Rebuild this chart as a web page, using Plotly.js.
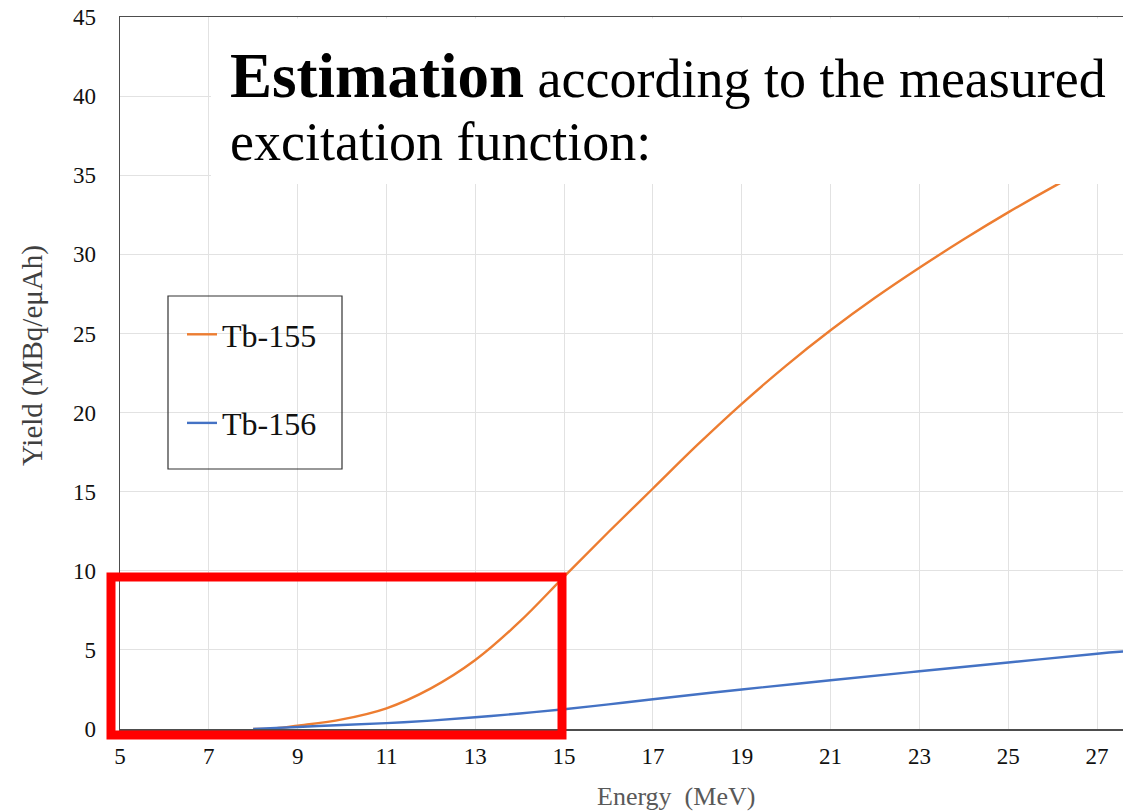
<!DOCTYPE html>
<html>
<head>
<meta charset="utf-8">
<script src="https://cdn.plot.ly/plotly-3.0.1.min.js"></script>
<style>
  html, body { margin: 0; padding: 0; background: #ffffff; }
  #chart { width: 1123px; height: 811px; }
</style>
</head>
<body>
<div id="chart"></div>
<script>
// ---- data ----
const energyTb155 = [8, 8.5, 9, 10, 11, 12, 13, 14, 15, 16, 17, 18, 19, 20, 21, 22, 23, 24, 25, 26, 27, 27.6];
const yieldTb155  = [0, 0.04, 0.21, 0.61, 1.31, 2.57, 4.36, 6.78, 9.63, 12.45, 15.2, 17.95, 20.55, 22.97, 25.2, 27.25, 29.15, 30.95, 32.65, 34.25, 35.75, 36.6];

const energyTb156 = [8, 9, 10, 11, 12, 13, 14, 15, 16, 17, 19, 21, 23, 25, 27, 27.6];
const yieldTb156  = [0, 0.13, 0.25, 0.37, 0.53, 0.74, 0.98, 1.25, 1.56, 1.88, 2.5, 3.08, 3.65, 4.2, 4.76, 4.9];

const seriesNames = ["Tb-155", "Tb-156"];
const xTickVals = [5, 7, 9, 11, 13, 15, 17, 19, 21, 23, 25, 27];
const yTickVals = [0, 5, 10, 15, 20, 25, 30, 35, 40, 45];
const xTitleText = "Energy\u00a0 (MeV)";
const yTitleText = "Yield (MBq/eμAh)";
const headlineBold = "Estimation";
const headlineRest = " according to the measured";
const headlineLine2 = "excitation function:";

// ---- page geometry helpers (pixels -> paper) ----
const W = 1123, H = 811;
const M = { l: 120, r: 0, t: 17, b: 82 };
const PW = W - M.l - M.r, PH = H - M.t - M.b;
const px = v => (v - M.l) / PW;
const py = v => (H - M.b - v) / PH;

const serif = "Liberation Serif";

const traces = [
  { x: energyTb155, y: yieldTb155, name: seriesNames[0], type: "scatter", mode: "lines",
    line: { color: "#ED7D31", width: 2.4, shape: "spline", smoothing: 1 }, legendgroup: "a" },
  { x: energyTb156, y: yieldTb156, name: seriesNames[1], type: "scatter", mode: "lines",
    line: { color: "#4472C4", width: 2.4, shape: "spline", smoothing: 1 }, legendgroup: "b" }
];

const tickFont = { family: serif, size: 23, color: "#111111" };

const layout = {
  width: W, height: H,
  margin: M,
  paper_bgcolor: "#ffffff",
  plot_bgcolor: "#ffffff",
  font: { family: serif, color: "#111111", size: 23 },
  showlegend: true,
  legend: {
    x: px(182), y: py(307), xanchor: "left", yanchor: "top",
    bgcolor: "rgba(0,0,0,0)", borderwidth: 0,
    font: { family: serif, size: 32, color: "#111111" },
    traceorder: "grouped", tracegroupgap: 44
  },
  xaxis: {
    range: [5, 27.585],
    tickvals: xTickVals,
    ticktext: xTickVals.map(String),
    showgrid: true, gridcolor: "#e2e2e2", gridwidth: 1,
    zeroline: false,
    showline: true, linecolor: "#4d4d4d", linewidth: 1.5, mirror: true,
    ticks: "", ticklabelstandoff: 6,
    tickfont: tickFont,
    fixedrange: true
  },
  yaxis: {
    range: [0, 45],
    tickvals: yTickVals,
    ticktext: yTickVals.map(String),
    showgrid: true, gridcolor: "#e2e2e2", gridwidth: 1,
    zeroline: false,
    showline: true, linecolor: "#4d4d4d", linewidth: 1.5,
    ticks: "", ticklabelstandoff: 18,
    tickfont: tickFont,
    fixedrange: true
  },
  shapes: [
    // white text panel pasted over the chart
    { type: "rect", xref: "paper", yref: "paper", layer: "above",
      x0: px(211), x1: 1.01, y0: py(184), y1: py(18.5),
      fillcolor: "#ffffff", line: { width: 0 } },
    // legend frame
    { type: "rect", xref: "paper", yref: "paper", layer: "above",
      x0: px(168), x1: px(342), y0: py(469), y1: py(296),
      fillcolor: "rgba(255,255,255,0)", line: { color: "#333333", width: 1.2 } },
    // red highlight rectangle
    { type: "rect", xref: "paper", yref: "paper", layer: "above",
      x0: px(111), x1: px(562), y0: py(735), y1: py(577),
      fillcolor: "rgba(0,0,0,0)", line: { color: "#ff0000", width: 9 } }
  ],
  annotations: [
    { xref: "paper", yref: "paper", x: px(228), y: py(76), xanchor: "left", yanchor: "middle",
      showarrow: false, align: "left",
      text: "<span style='font-size:63px'><b>" + headlineBold + "</b></span>" + headlineRest,
      font: { family: serif, size: 54, color: "#000000" } },
    { xref: "paper", yref: "paper", x: px(228), y: py(142), xanchor: "left", yanchor: "middle",
      showarrow: false, align: "left",
      text: headlineLine2,
      font: { family: serif, size: 54, color: "#000000" } },
    { xref: "paper", yref: "paper", x: px(676), y: py(797), xanchor: "center", yanchor: "middle",
      showarrow: false, text: xTitleText,
      font: { family: serif, size: 26, color: "#595959" } },
    { xref: "paper", yref: "paper", x: px(32), y: py(356), xanchor: "center", yanchor: "middle",
      showarrow: false, text: yTitleText, textangle: -90,
      font: { family: serif, size: 29, color: "#404040" } }
  ]
};

Plotly.newPlot("chart", traces, layout, { staticPlot: true, displayModeBar: false });
</script>
</body>
</html>
